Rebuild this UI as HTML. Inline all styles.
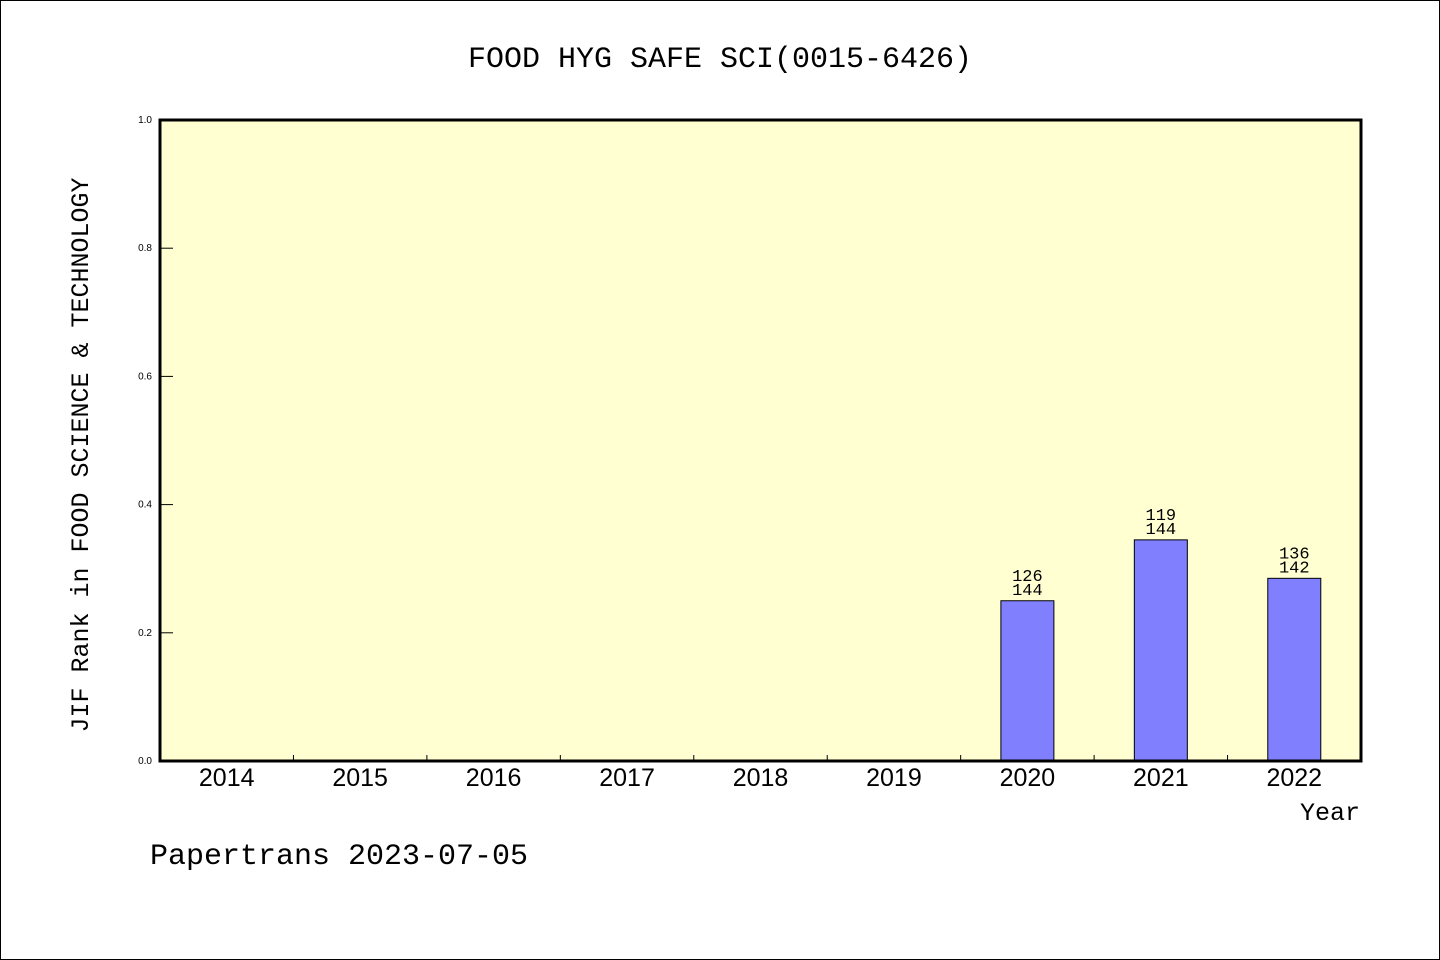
<!DOCTYPE html>
<html><head><meta charset="utf-8"><style>
body{margin:0;background:#fff;}
svg{display:block;}
.mono{font-family:"WenQuanYi Zen Hei","Liberation Mono",monospace;}
.sans{font-family:"Liberation Sans","DejaVu Sans",sans-serif;}
</style></head><body>
<svg id="chart" width="1440" height="960" xmlns="http://www.w3.org/2000/svg">
<rect x="0.5" y="0.5" width="1439" height="959" fill="#fff" stroke="#000"/>
<text x="720" y="67" text-anchor="middle" font-size="30" class="mono">FOOD HYG SAFE SCI(0015-6426)</text>
<rect x="160" y="120" width="1201" height="641" fill="#ffffd2"/>
<g id="marks"></g>
<rect x="160" y="120" width="1201" height="641" fill="none" stroke="#000" stroke-width="3"/>
<text transform="translate(88,455) rotate(-90)" text-anchor="middle" font-size="25" class="mono">JIF Rank in FOOD SCIENCE &amp; TECHNOLOGY</text>
<text x="1360" y="820" text-anchor="end" font-size="25" class="mono">Year</text>
<text x="150" y="864" font-size="30" class="mono">Papertrans 2023-07-05</text>
</svg>
<script>
const years = ["2014","2015","2016","2017","2018","2019","2020","2021","2022"];
const values = [null,null,null,null,null,null,0.25,0.345,0.285];
const ranks = [null,null,null,null,null,null,"126","119","136"];
const totals = [null,null,null,null,null,null,"144","144","142"];
const yTicks = ["0.0","0.2","0.4","0.6","0.8","1.0"];
const X0=160,X1=1361,Y0=761,Y1=120;
const step=(X1-X0)/years.length;
const xC=i=>X0+step*(i+0.5);
const yS=v=>Y0-(Y0-Y1)*v;
const g=document.getElementById('marks');
const NS="http://www.w3.org/2000/svg";
function mk(t,a){const e=document.createElementNS(NS,t);for(const k in a)e.setAttribute(k,a[k]);g.appendChild(e);return e;}
yTicks.forEach(t=>{const y=yS(parseFloat(t));
 const l=mk('line',{x1:X0,x2:X0+13,y1:y,y2:y,stroke:'#000','stroke-width':1});
 
 
 const tx=mk('text',{x:X0-8,y:y+3,'text-anchor':'end','font-size':10,class:'sans'});tx.textContent=t;
 
 
});
years.forEach((yr,i)=>{
 if(i>0){const x=X0+step*i;const l=mk('line',{x1:x,x2:x,y1:Y0,y2:Y0-6,stroke:'#000','stroke-width':1});
 
 }
 const tx=mk('text',{x:xC(i),y:Y0+25,'text-anchor':'middle','font-size':25,class:'sans'});tx.textContent=yr;
 
 
 const v=values[i]; if(v==null) return;
 const w=53;
 const r=mk('rect',{x:xC(i)-w/2,y:yS(v),width:w,height:Y0-yS(v),fill:'#8080ff',stroke:'#000','stroke-width':1});
 
 
 const a=mk('text',{x:xC(i),y:yS(v)-20,'text-anchor':'middle','font-size':17,class:'mono'});a.textContent=ranks[i];
 
 
 const b=mk('text',{x:xC(i),y:yS(v)-6,'text-anchor':'middle','font-size':17,class:'mono'});b.textContent=totals[i];
 
 
});
</script>
</body></html>
